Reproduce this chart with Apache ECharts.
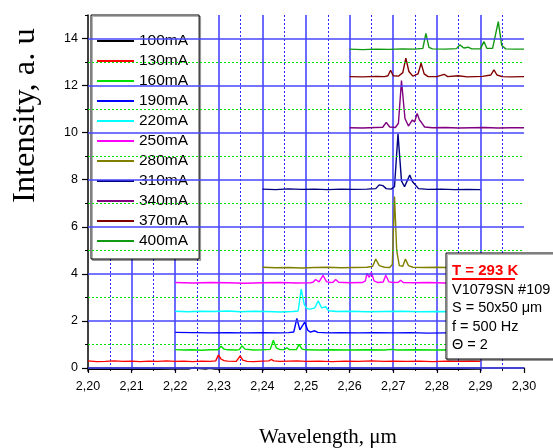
<!DOCTYPE html>
<html><head><meta charset="utf-8">
<script src="https://cdn.jsdelivr.net/npm/echarts@6/dist/echarts.min.js"></script>
<style>html,body{margin:0;padding:0;background:#fff}#c{width:553px;height:448px}</style>
</head><body><div id="c"></div>
<script>
const seriesNames = ['100mA','130mA','160mA','190mA','220mA','250mA','280mA','310mA','340mA','370mA','400mA'];

const s100 = [[2.200,-0.06],[2.204,-0.05],[2.208,-0.06],[2.212,-0.05],[2.216,-0.06],[2.220,-0.05],[2.223,-0.05],[2.2245,0.02],[2.2255,-0.03],[2.2270,-0.05],[2.2280,-0.02],[2.2290,-0.05],[2.232,-0.06],[2.236,-0.05],[2.240,-0.06],[2.244,-0.05],[2.248,-0.06],[2.252,-0.05],[2.256,-0.06],[2.260,-0.05],[2.265,-0.06],[2.270,-0.05],[2.275,-0.06],[2.280,-0.05],[2.285,-0.06],[2.290,-0.05]];
const s130 = [[2.200,0.30],[2.202,0.27],[2.204,0.28],[2.206,0.30],[2.208,0.28],[2.210,0.29],[2.212,0.27],[2.214,0.29],[2.216,0.28],[2.218,0.30],[2.220,0.28],[2.222,0.29],[2.224,0.27],[2.226,0.29],[2.228,0.28],[2.2293,0.30],[2.2299,0.55],[2.2305,0.38],[2.2312,0.31],[2.2320,0.29],[2.234,0.28],[2.2343,0.29],[2.2349,0.51],[2.2355,0.33],[2.2365,0.28],[2.238,0.27],[2.240,0.29],[2.2415,0.30],[2.2420,0.36],[2.2426,0.30],[2.244,0.28],[2.246,0.29],[2.248,0.30],[2.250,0.28],[2.253,0.29],[2.256,0.27],[2.259,0.29],[2.262,0.28],[2.265,0.30],[2.268,0.28],[2.270,0.29],[2.273,0.28],[2.276,0.29],[2.279,0.27],[2.282,0.29],[2.285,0.28],[2.288,0.29],[2.290,0.28]];
const s160 = [[2.220,0.78],[2.222,0.76],[2.224,0.77],[2.226,0.75],[2.228,0.77],[2.2298,0.77],[2.2305,0.92],[2.2312,0.80],[2.232,0.77],[2.234,0.76],[2.2347,0.78],[2.2353,0.94],[2.2360,0.80],[2.238,0.76],[2.240,0.77],[2.2418,0.79],[2.2425,1.18],[2.2432,0.85],[2.244,0.78],[2.2450,0.78],[2.2456,0.86],[2.2462,0.78],[2.2478,0.78],[2.2484,1.00],[2.2491,0.80],[2.250,0.77],[2.253,0.76],[2.256,0.77],[2.260,0.76],[2.264,0.77],[2.268,0.76],[2.2695,0.79],[2.271,0.76],[2.275,0.77],[2.280,0.76],[2.285,0.77],[2.290,0.76]];
const s190 = [[2.220,1.51],[2.224,1.50],[2.228,1.49],[2.232,1.50],[2.236,1.49],[2.240,1.50],[2.244,1.49],[2.246,1.50],[2.2472,1.53],[2.2479,2.10],[2.2486,1.62],[2.2490,1.58],[2.2497,1.95],[2.2504,1.60],[2.251,1.52],[2.2520,1.58],[2.2527,1.51],[2.255,1.49],[2.258,1.50],[2.262,1.49],[2.266,1.50],[2.270,1.49],[2.274,1.50],[2.278,1.48],[2.282,1.49],[2.286,1.50],[2.290,1.49]];
const s220 = [[2.220,2.41],[2.223,2.39],[2.226,2.41],[2.229,2.40],[2.232,2.42],[2.235,2.39],[2.238,2.41],[2.241,2.40],[2.244,2.38],[2.247,2.40],[2.2482,2.42],[2.2489,3.35],[2.2496,2.70],[2.2502,2.52],[2.2510,2.50],[2.2520,2.55],[2.2528,2.85],[2.2536,2.55],[2.2545,2.60],[2.2552,2.43],[2.257,2.40],[2.260,2.41],[2.264,2.39],[2.268,2.40],[2.272,2.41],[2.276,2.39],[2.280,2.40],[2.285,2.39],[2.290,2.40]];
const s250 = [[2.220,3.63],[2.224,3.61],[2.228,3.63],[2.232,3.62],[2.236,3.60],[2.240,3.62],[2.244,3.63],[2.248,3.61],[2.251,3.62],[2.2516,3.64],[2.2522,3.76],[2.2530,3.66],[2.2539,3.93],[2.2547,3.67],[2.2555,3.63],[2.2562,3.64],[2.2568,3.76],[2.2575,3.64],[2.260,3.62],[2.263,3.63],[2.2636,3.70],[2.2640,4.02],[2.2645,3.85],[2.2650,4.07],[2.2656,3.70],[2.2665,3.63],[2.2677,3.65],[2.2683,3.94],[2.2690,3.66],[2.270,3.63],[2.2712,3.64],[2.2717,3.73],[2.2723,3.63],[2.275,3.62],[2.278,3.63],[2.282,3.61],[2.286,3.62],[2.290,3.61]];
const s280 = [[2.240,4.28],[2.243,4.26],[2.246,4.27],[2.249,4.25],[2.252,4.27],[2.255,4.28],[2.258,4.26],[2.261,4.27],[2.264,4.28],[2.2653,4.32],[2.2660,4.63],[2.2668,4.35],[2.2680,4.28],[2.2692,4.27],[2.2698,4.40],[2.2703,7.28],[2.2708,5.00],[2.2714,4.35],[2.2722,4.32],[2.2728,4.63],[2.2735,4.35],[2.2745,4.28],[2.277,4.27],[2.280,4.28],[2.284,4.26],[2.288,4.27],[2.292,4.26],[2.296,4.27],[2.300,4.26]];
const s310 = [[2.240,7.60],[2.243,7.58],[2.246,7.61],[2.249,7.59],[2.252,7.60],[2.255,7.58],[2.258,7.60],[2.261,7.59],[2.264,7.60],[2.2660,7.62],[2.2668,7.78],[2.2676,7.75],[2.2684,7.62],[2.2695,7.60],[2.2703,7.70],[2.2711,9.95],[2.2719,7.95],[2.2726,7.70],[2.2732,7.95],[2.2738,8.20],[2.2744,7.92],[2.2750,7.80],[2.2758,7.62],[2.278,7.59],[2.281,7.60],[2.284,7.58],[2.287,7.59],[2.290,7.58]];
const s340 = [[2.260,10.21],[2.263,10.20],[2.266,10.22],[2.2676,10.23],[2.2684,10.44],[2.2692,10.24],[2.2705,10.22],[2.2712,10.40],[2.2719,12.21],[2.2727,10.60],[2.2735,10.28],[2.2744,10.54],[2.2749,10.45],[2.2755,10.82],[2.2760,10.55],[2.2765,10.43],[2.2772,10.24],[2.279,10.21],[2.282,10.22],[2.285,10.20],[2.288,10.21],[2.291,10.22],[2.294,10.20],[2.297,10.21],[2.300,10.21]];
const s370 = [[2.260,12.38],[2.263,12.37],[2.266,12.39],[2.268,12.38],[2.2688,12.42],[2.2694,12.65],[2.2700,12.42],[2.2712,12.40],[2.2722,12.55],[2.2729,13.17],[2.2736,12.60],[2.2745,12.40],[2.2757,12.50],[2.2764,12.95],[2.2771,12.50],[2.2780,12.38],[2.280,12.38],[2.2817,12.48],[2.2825,12.38],[2.2849,12.42],[2.287,12.37],[2.2905,12.39],[2.2924,12.45],[2.2931,12.67],[2.2938,12.45],[2.2950,12.38],[2.297,12.37],[2.300,12.38]];
const s400 = [[2.260,13.55],[2.263,13.53],[2.266,13.55],[2.269,13.54],[2.272,13.56],[2.275,13.55],[2.2768,13.58],[2.2775,14.22],[2.2782,13.62],[2.279,13.56],[2.282,13.55],[2.2845,13.57],[2.2853,13.73],[2.2862,13.60],[2.2872,13.63],[2.2880,13.56],[2.290,13.56],[2.2908,13.87],[2.2915,13.58],[2.2928,13.58],[2.2941,14.72],[2.2949,13.70],[2.2958,13.56],[2.298,13.55],[2.300,13.55]];

const yMajorTicks = [0,2,4,6,8,10,12,14];
const yMinorTicks = [1,3,5,7,9,11,13,15];
const annotationLines = ['V1079SN #109','S = 50x50 \u03bcm','f = 500 Hz','\u0398 = 2'];
const annotationTitle = 'T = 293 K';

const allData = [s100,s130,s160,s190,s220,s250,s280,s310,s340,s370,s400];
const colors = ['#000000','#ff0000','#00e000','#0000ff','#00ffff','#ff00ff','#808000','#000080','#800080','#800000','#119911'];

const chart = echarts.init(document.getElementById('c'), null, {renderer:'canvas'});

const series = [{
  type:'line', name:'grid', data:[], z:0, silent:true,
  markLine:{
    silent:true, symbol:['none','none'], label:{show:false}, animation:false,
    data: yMajorTicks.map(v=>({yAxis:v, lineStyle:{color:'#4646ff', width:1.6, type:'solid'}}))
      .concat(yMinorTicks.filter(v=>v<15).map(v=>({yAxis:v, lineStyle:{color:'#00e000', width:1, type:[2,2]}})))
  }
}];
seriesNames.forEach((n,i)=>{
  series.push({
    type:'line', name:n, data:allData[i], showSymbol:false, symbol:'none',
    lineStyle:{color:colors[i], width:1.4}, itemStyle:{color:colors[i]}, z:3, animation:false
  });
});

const font = "'Liberation Sans', Arial, sans-serif";
const boxFont = "14.5px 'Liberation Sans', Arial, sans-serif";

chart.setOption({
  animation:false,
  backgroundColor:'#ffffff',
  grid:{left:88, right:29, top:15, bottom:77, containLabel:false},
  xAxis:{
    type:'value', min:2.2, max:2.3, interval:0.01,
    axisLine:{show:true, lineStyle:{color:'#000', width:1.5}},
    axisTick:{show:true, length:5, inside:false, lineStyle:{color:'#000', width:1.2}},
    minorTick:{show:true, splitNumber:2, length:3, lineStyle:{color:'#000', width:1}},
    axisLabel:{fontFamily:font, fontSize:12.5, color:'#000', margin:9,
      formatter:v=>v.toFixed(2).replace('.',',')},
    splitLine:{show:true, showMinLine:false, showMaxLine:false, lineStyle:{color:'#4646ff', width:1.6}},
    minorSplitLine:{show:true, lineStyle:{color:'#2a2aff', width:1, type:[2,2]}}
  },
  yAxis:[{
    type:'value', min:-0.13, max:15,
    axisLine:{show:true, lineStyle:{color:'#000', width:1.5}},
    axisTick:{show:true, length:6, customValues:yMajorTicks, lineStyle:{color:'#000', width:1.2}},
    axisLabel:{fontFamily:font, fontSize:12.5, color:'#000', margin:10, customValues:yMajorTicks},
    splitLine:{show:false}
  },{
    type:'value', min:-0.13, max:15, position:'left',
    axisLine:{show:false},
    axisTick:{show:true, length:3, customValues:yMinorTicks, lineStyle:{color:'#000', width:1}},
    axisLabel:{show:false},
    splitLine:{show:false}
  }],
  legend:{
    data:seriesNames, orient:'vertical', left:91, top:15,
    icon:'rect', itemWidth:37, itemHeight:2, itemGap:4,
    padding:[18,11,10,6],
    backgroundColor:'#fff', borderColor:'#000', borderWidth:1,
    shadowColor:'rgba(0,0,0,0.3)', shadowOffsetX:1.5, shadowOffsetY:1.5, shadowBlur:0,
    textStyle:{fontFamily:font, fontSize:15.5, color:'#000', lineHeight:16},
    selectedMode:false
  },
  series:series,
  graphic:[
    {type:'text', rotation:Math.PI/2, z:10, x:9, y:203,
      style:{text:'Intensity, a. u', font:"32.5px 'Liberation Serif', 'Times New Roman', serif", fill:'#000'}},
    {type:'text', x:328, y:437, z:10,
      style:{text:'Wavelength, \u03bcm', font:"21px 'Liberation Serif', 'Times New Roman', serif", fill:'#000', align:'center', verticalAlign:'middle'}},
    {type:'rect', z:100, shape:{x:446, y:253, width:120, height:106},
      style:{fill:'#fff', stroke:'#000', lineWidth:1, shadowColor:'rgba(0,0,0,0.3)', shadowOffsetX:1.5, shadowOffsetY:1.5, shadowBlur:0}},
    {type:'text', z:101, x:452, y:271, style:{text:annotationTitle, font:"bold 15px 'Liberation Sans', Arial, sans-serif", fill:'#ff0000', verticalAlign:'middle'}},
    {type:'line', z:101, shape:{x1:452, y1:279, x2:515, y2:279}, style:{stroke:'#ff0000', lineWidth:2}},
    {type:'text', z:101, x:452, y:289.5, style:{text:annotationLines[0], font:boxFont, fill:'#000', verticalAlign:'middle'}},
    {type:'text', z:101, x:452, y:308, style:{text:annotationLines[1], font:boxFont, fill:'#000', verticalAlign:'middle'}},
    {type:'text', z:101, x:452, y:326.5, style:{text:annotationLines[2], font:boxFont, fill:'#000', verticalAlign:'middle'}},
    {type:'text', z:101, x:452, y:345, style:{text:annotationLines[3], font:boxFont, fill:'#000', verticalAlign:'middle'}}
  ]
});
</script></body></html>
